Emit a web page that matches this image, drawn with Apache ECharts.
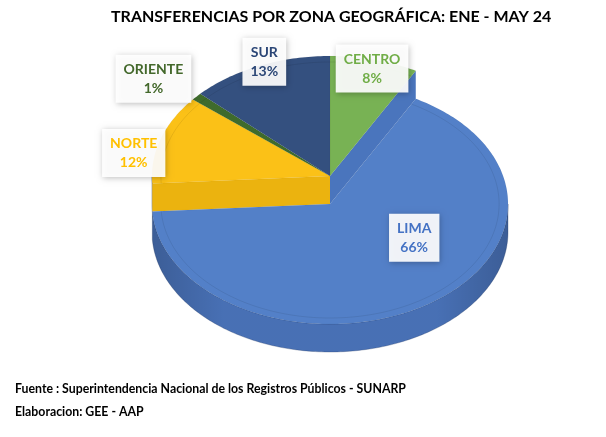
<!DOCTYPE html>
<html>
<head>
<meta charset="utf-8">
<script src="https://cdn.jsdelivr.net/npm/echarts@6/dist/echarts.min.js"></script>
<style>
    html, body { margin: 0; padding: 0; background: #fff; }
    #chart { width: 606px; height: 437px; }
</style>
</head>
<body>
<div id="chart"></div>
<script>
'use strict';

// datos
const zonas = ['CENTRO', 'LIMA', 'NORTE', 'ORIENTE', 'SUR'];
const porcentajes = [8, 66, 12, 1, 13];
const titulo = 'TRANSFERENCIAS POR ZONA GEOGRÁFICA: ENE - MAY 24';
const notas = [
    'Fuente : Superintendencia Nacional de los Registros Públicos - SUNARP',
    'Elaboracion: GEE - AAP'
];

// estilos
const topColors = ['#78b254', '#5380c8', '#fbc117', '#3f6b2c', '#34507f'];
const sideColors = ['#5e9140', '#4972b8', '#e4ac0d', '#33591f', '#283f66'];
const wallColors = ['#4a75bd', null, '#ebb30f', null, null];
const textColors = ['#70ad47', '#4472c4', '#ffc000', '#43682b', '#2b4676'];
const explode = [0, 28, 0, 0, 0];
const labelRadius = [0.95, 0.6, 1.0, 1.3, 1.0];
const labelNudge = [[0, 3], [27, -27], [-27, 14], [-3, 6], [5, -4]];

const CX = 330, CY = 176, RX = 178, RY = 120, DEPTH = 28;

// ángulos acumulados (grados, sentido horario desde las 12)
const total = porcentajes.reduce((a, b) => a + b, 0);
const starts = [], ends = [];
let acc = 0;
porcentajes.forEach(v => {
    starts.push(acc / total * 360);
    acc += v;
    ends.push(acc / total * 360);
});

function pt(deg, dy, k) {
    const r = deg * Math.PI / 180;
    const f = k === undefined ? 1 : k;
    return [CX + RX * f * Math.sin(r), CY + dy - RY * f * Math.cos(r)];
}

function arc(a0, a1, dy, k) {
    const pts = [];
    const n = Math.max(2, Math.ceil(Math.abs(a1 - a0)));
    for (let j = 0; j <= n; j++) pts.push(pt(a0 + (a1 - a0) * j / n, dy, k));
    return pts;
}

function renderSlice(params, api) {
    const i = params.dataIndex;
    const n = porcentajes.length;
    const a0 = starts[i], a1 = ends[i], off = explode[i];
    const children = [];

    // pared exterior visible (mitad frontal)
    const s0 = Math.max(a0, 90), s1 = Math.min(a1, 270);
    if (s1 > s0) {
        const pts = arc(s0, s1, off).concat(arc(s1, s0, off + DEPTH));
        children.push({
            type: 'polygon', z2: 0,
            shape: { points: pts },
            style: { fill: sideColors[i], stroke: 'rgba(40,60,100,0.5)', lineWidth: 0.6 }
        });
        children.push({
            type: 'polygon', z2: 1,
            shape: { points: pts },
            style: {
                fill: {
                    type: 'linear', x: 0, y: 0, x2: 1, y2: 0,
                    colorStops: [
                        { offset: 0, color: 'rgba(0,0,0,0.18)' },
                        { offset: 0.2, color: 'rgba(0,0,0,0.02)' },
                        { offset: 0.8, color: 'rgba(0,0,0,0.02)' },
                        { offset: 1, color: 'rgba(0,0,0,0.18)' }
                    ]
                }
            }
        });
    }

    // caras radiales expuestas junto a la porción separada
    const prev = (i - 1 + n) % n, next = (i + 1) % n;
    if (explode[i] === 0 && wallColors[i]) {
        [[next, a1], [prev, a0]].forEach(([nb, ang]) => {
            if (explode[nb] > 0) {
                const p = pt(ang, 0), h = explode[nb];
                children.push({
                    type: 'polygon', z2: 2,
                    shape: { points: [[CX, CY], p, [p[0], p[1] + h], [CX, CY + h]] },
                    style: { fill: wallColors[i] }
                });
            }
        });
    }

    // cara superior
    children.push({
        type: 'polygon', z2: 3,
        shape: { points: [[CX, CY + off]].concat(arc(a0, a1, off)) },
        style: { fill: topColors[i], stroke: 'rgba(0,0,0,0.06)', lineWidth: 0.6 }
    });
    // bisel interior
    children.push({
        type: 'polyline', z2: 4,
        shape: { points: arc(a0, a1, off, 0.95) },
        style: { fill: null, stroke: 'rgba(0,0,0,0.08)', lineWidth: 1 }
    });

    // etiqueta
    const mid = (a0 + a1) / 2;
    const lp = pt(mid, off, labelRadius[i]);
    children.push({
        type: 'text', z2: 10,
        style: {
            text: zonas[i] + '\n' + api.value(0) + '%',
            x: lp[0] + labelNudge[i][0],
            y: lp[1] + labelNudge[i][1],
            align: 'center',
            verticalAlign: 'middle',
            fill: textColors[i],
            fontFamily: 'Lato',
            fontWeight: 'bold',
            fontSize: 14,
            lineHeight: 19,
            backgroundColor: 'rgba(255,255,255,0.92)',
            padding: [5, 8, 5, 8],
            shadowBlur: 6,
            shadowColor: 'rgba(0,0,0,0.28)',
            shadowOffsetX: 1,
            shadowOffsetY: 1
        }
    });

    return { type: 'group', children: children };
}

const myChart = echarts.init(document.getElementById('chart'));

const option = {
    animation: false,
    backgroundColor: '#ffffff',
    title: [
        {
            text: titulo,
            left: 111, top: 9, padding: 0,
            textStyle: { fontFamily: 'Lato', fontWeight: 'bold', fontSize: 16, color: '#000' }
        },
        {
            text: notas[0],
            left: 15, top: 383, padding: 0,
            textStyle: { fontFamily: 'Lato', fontWeight: 'bold', fontSize: 12.3, color: '#000' }
        },
        {
            text: notas[1],
            left: 15, top: 406, padding: 0,
            textStyle: { fontFamily: 'Lato', fontWeight: 'bold', fontSize: 12.3, color: '#000' }
        }
    ],
    series: [{
        type: 'custom',
        coordinateSystem: 'none',
        renderItem: renderSlice,
        data: porcentajes
    }]
};

myChart.setOption(option);
</script>
</body>
</html>
